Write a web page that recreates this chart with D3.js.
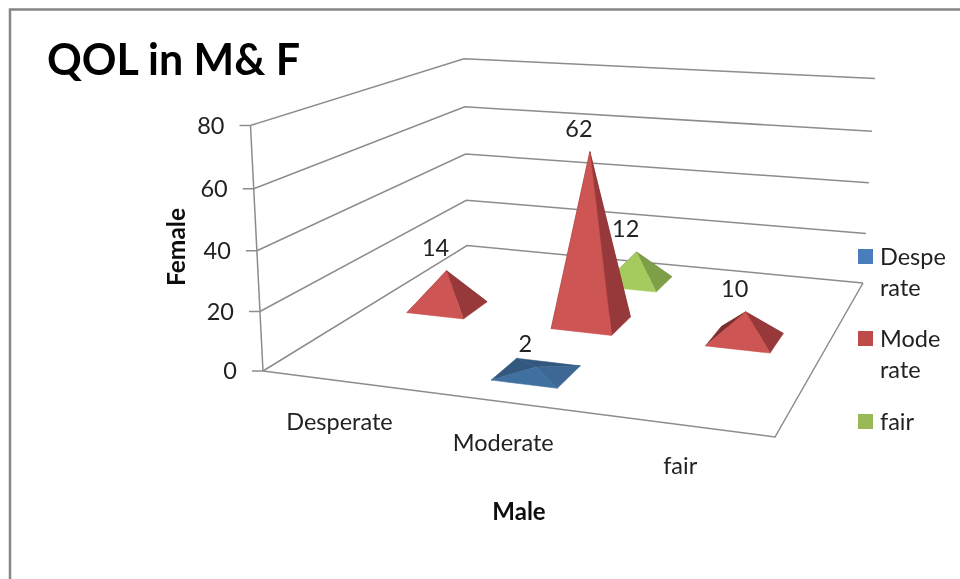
<!DOCTYPE html>
<html>
<head>
<meta charset="utf-8">
<style>
    html, body { margin: 0; padding: 0; background: #fff; }
    text { font-family: Lato, "Open Sans", sans-serif; fill: #222; }
</style>
<script src="https://cdnjs.cloudflare.com/ajax/libs/d3/7.8.5/d3.min.js"></script>
</head>
<body>
<svg id="chart" width="960" height="579"></svg>
<script>
// data
let categories = ['Desperate', 'Moderate', 'fair'];
let seriesNames = ['Desperate', 'Moderate', 'fair'];
let desperateValues = [null, 2, null];
let moderateValues = [14, 62, 10];
let fairValues = [null, 12, null];
let yTicks = [0, 20, 40, 60, 80];
let seriesValues = [desperateValues, moderateValues, fairValues];

// colours: front face, right face, back faces
let legendColors = ['#4a7ebb', '#be4b48', '#98b954'];
let faceColors = [
    ['#41709f', '#3d6896', '#33587f'],
    ['#cd5452', '#97393a', '#7d2f2d'],
    ['#a5cb5e', '#7e9e47', '#6e8a3e']
];

let svg = d3.select('#chart');
let gridColor = '#8c8c8c';

// the reference is a soft upscaled screenshot
svg.append('defs').append('filter')
    .attr('id', 'soft')
    .append('feGaussianBlur')
    .attr('stdDeviation', 0.45);
let root = svg.append('g').attr('filter', 'url(#soft)');

// white backing so the filter has the full area
root.append('rect').attr('width', 960).attr('height', 579).attr('fill', '#fff');

// chart frame, only top and left edges are in the crop
root.append('path')
    .attr('d', 'M10,590V9.5H970')
    .attr('fill', 'none')
    .attr('stroke', '#868686')
    .attr('stroke-width', 2.5);

// corners of the floor and of the top plane on screen
let floorQuad = [[263, 371], [775, 437], [863, 283], [467, 245.6]];
let topQuad = [[250.5, 125.5], [787, 165], [875, 78.5], [464, 58.7]];

// unit square to quad (perspective)
function homography(q) {
    let [x0, y0] = q[0], [x1, y1] = q[1], [x2, y2] = q[2], [x3, y3] = q[3];
    let dx1 = x1 - x2, dx2 = x3 - x2, sx = x0 - x1 + x2 - x3;
    let dy1 = y1 - y2, dy2 = y3 - y2, sy = y0 - y1 + y2 - y3;
    let den = dx1 * dy2 - dx2 * dy1;
    let g = (sx * dy2 - dx2 * sy) / den;
    let h = (dx1 * sy - sx * dy1) / den;
    let a = x1 - x0 + g * x1, b = x3 - x0 + h * x3;
    let d = y1 - y0 + g * y1, e = y3 - y0 + h * y3;
    return function (u, v) {
        let w = g * u + h * v + 1;
        return [(a * u + b * v + x0) / w, (d * u + e * v + y0) / w];
    };
}
let floorAt = homography(floorQuad);
let topAt = homography(topQuad);

let heightScale = d3.scaleLinear().domain([0, 80]).range([0, 1]);
let xBand = d3.scaleBand().domain(categories).range([0, 1]).paddingInner(0.6).paddingOuter(0.3);
let depthBand = d3.scaleBand().domain(seriesNames).range([0, 1]).paddingInner(0.6).paddingOuter(0.3);

// u: along male axis, v: towards the back wall, value: height
function project(u, v, value) {
    let t = heightScale(value);
    t = t * 0.96 / (1 - t * 0.04); // slight perspective on the vertical
    let a = floorAt(u, v), b = topAt(u, v);
    return [a[0] + (b[0] - a[0]) * t, a[1] + (b[1] - a[1]) * t];
}

let line = d3.line();

// walls
let grid = root.append('g').attr('fill', 'none').attr('stroke', gridColor).attr('stroke-width', 1.5);
yTicks.forEach(function (tick) {
    grid.append('path').attr('d', line([project(0, 0, tick), project(0, 1, tick), project(1, 1, tick)]));
});
// floor front and right edge, vertical axis
grid.append('path').attr('d', line([project(0, 0, 0), project(1, 0, 0), project(1, 1, 0)]));
grid.append('path').attr('d', line([project(0, 0, 0), project(0, 0, 80)]));

// y ticks and labels
yTicks.forEach(function (tick) {
    let p = project(0, 0, tick);
    grid.append('line')
        .attr('x1', p[0] - 11).attr('x2', p[0])
        .attr('y1', p[1]).attr('y2', p[1]);
    root.append('text')
        .attr('x', p[0] - 26)
        .attr('y', p[1])
        .attr('dy', '0.35em')
        .attr('text-anchor', 'end')
        .style('font-size', '23.5px')
        .text(tick);
});

// category labels under the front edge
categories.forEach(function (name) {
    let u = xBand(name) + xBand.bandwidth() / 2;
    let p = project(u, 0, 0);
    root.append('text')
        .attr('x', p[0] - 1)
        .attr('y', p[1] + 41)
        .attr('dy', '0.35em')
        .attr('text-anchor', 'middle')
        .style('font-size', '23.5px')
        .text(name);
});

// pyramids, back row first so the front ones cover them
let marks = [];
seriesValues.forEach(function (values, s) {
    values.forEach(function (value, c) {
        if (value !== null) marks.push({s: s, c: c, value: value});
    });
});
marks.sort(function (a, b) {
    return b.s - a.s || a.c - b.c;
});

let pyramids = root.selectAll('g.pyramid')
    .data(marks)
    .enter()
    .append('g')
    .attr('class', 'pyramid');

pyramids.each(function (d) {
    let g = d3.select(this);
    let u0 = xBand(categories[d.c]), u1 = u0 + xBand.bandwidth();
    let v0 = depthBand(seriesNames[d.s]), v1 = v0 + depthBand.bandwidth();
    let fl = project(u0, v0, 0), fr = project(u1, v0, 0);
    let br = project(u1, v1, 0), bl = project(u0, v1, 0);
    let apex = project((u0 + u1) / 2, (v0 + v1) / 2, d.value);
    let colors = faceColors[d.s];
    let faces = [
        [[bl, br, apex], colors[2]],
        [[bl, fl, apex], colors[2]],
        [[fr, br, apex], colors[1]],
        [[fl, fr, apex], colors[0]]
    ];
    faces.forEach(function (f) {
        g.append('path')
            .attr('d', line(f[0]) + 'Z')
            .attr('fill', f[1])
            .attr('stroke', f[1])
            .attr('stroke-width', 0.5);
    });
    g.append('text')
        .attr('x', apex[0] - 11)
        .attr('y', apex[1] - 23)
        .attr('dy', '0.35em')
        .attr('text-anchor', 'middle')
        .style('font-size', '23.5px')
        .text(d.value);
});

// titles
root.append('text')
    .attr('x', 47).attr('y', 75)
    .style('font-size', '43px').style('font-weight', 700).style('fill', '#000')
    .text('QOL in M& F');
root.append('text')
    .attr('x', 519).attr('y', 512).attr('dy', '0.35em')
    .attr('text-anchor', 'middle')
    .style('font-size', '24px').style('font-weight', 700).style('fill', '#111')
    .text('Male');
root.append('text')
    .attr('transform', 'translate(176,247) rotate(-90)')
    .attr('dy', '0.35em')
    .attr('text-anchor', 'middle')
    .style('font-size', '24.5px').style('font-weight', 700).style('fill', '#111')
    .text('Female');

// legend, names wrap the way the narrow box wraps them
let legendLines = [['Despe', 'rate'], ['Mode', 'rate'], ['fair']];
let legendY = [249, 331, 414];
seriesNames.forEach(function (name, i) {
    let g = root.append('g').attr('transform', 'translate(858,' + legendY[i] + ')');
    g.append('rect').attr('width', 15).attr('height', 15).attr('fill', legendColors[i]);
    legendLines[i].forEach(function (t, j) {
        g.append('text')
            .attr('x', 22)
            .attr('y', 8 + j * 31)
            .attr('dy', '0.35em')
            .style('font-size', '23.5px')
            .text(t);
    });
});
</script>
</body>
</html>
